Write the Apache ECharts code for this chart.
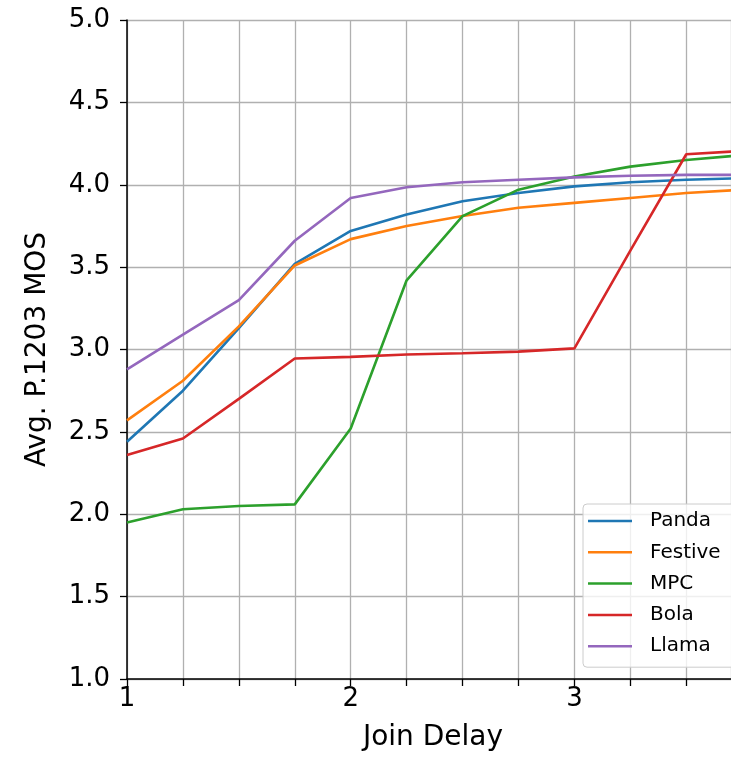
<!DOCTYPE html>
<html>
<head>
<meta charset="utf-8">
<script src="https://cdn.jsdelivr.net/npm/echarts@6/dist/echarts.min.js"></script>
<style>
  html, body { margin: 0; padding: 0; background: #fff; }
  #chart { width: 731px; height: 757px; }
</style>
</head>
<body>
<div id="chart"></div>
<script>
// Join delay values (x)
const joinDelay = [1, 1.25, 1.5, 1.75, 2, 2.25, 2.5, 2.75, 3, 3.25, 3.5, 3.75];
// Avg. P.1203 MOS per algorithm
const panda   = [2.44, 2.75, 3.13, 3.52, 3.72, 3.82, 3.90, 3.95, 3.99, 4.015, 4.03, 4.04];
const festive = [2.57, 2.81, 3.14, 3.51, 3.67, 3.75, 3.81, 3.86, 3.89, 3.92, 3.95, 3.97];
const mpc     = [1.95, 2.03, 2.05, 2.06, 2.52, 3.42, 3.81, 3.97, 4.05, 4.11, 4.15, 4.18];
const bola    = [2.36, 2.46, 2.70, 2.945, 2.955, 2.97, 2.977, 2.987, 3.007, 3.60, 4.185, 4.205];
const llama   = [2.88, 3.09, 3.30, 3.66, 3.92, 3.985, 4.015, 4.03, 4.045, 4.055, 4.06, 4.06];

const seriesNames = ['Panda', 'Festive', 'MPC', 'Bola', 'Llama'];
const seriesData = [panda, festive, mpc, bola, llama];
const colors = ['#1f77b4', '#ff7f0e', '#2ca02c', '#d62728', '#9467bd'];

const FONT = 'DejaVu Sans';
const chart = echarts.init(document.getElementById('chart'), null, { renderer: 'canvas' });

chart.setOption({
  animation: false,
  backgroundColor: '#ffffff',
  color: colors,
  grid: { left: 127, top: 20, right: 0, bottom: 78, containLabel: false },
  xAxis: {
    type: 'value',
    min: 1,
    max: 3.70,
    interval: 0.25,
    name: 'Join Delay',
    nameLocation: 'middle',
    nameGap: 45,
    nameTextStyle: { fontFamily: FONT, fontSize: 28, color: '#000', padding: [0, 0, 0, 8] },
    axisLine: { show: true, lineStyle: { color: '#000', width: 1.5 } },
    axisTick: { show: true, length: 7, inside: false, lineStyle: { color: '#000', width: 1.3 } },
    axisLabel: {
      fontFamily: FONT, fontSize: 26, color: '#000', margin: 7,
      formatter: v => Number.isInteger(v) ? String(v) : '',
      showMaxLabel: false
    },
    splitLine: { show: true, lineStyle: { color: '#b0b0b0', width: 1.3 } }
  },
  yAxis: {
    type: 'value',
    min: 1,
    max: 5,
    interval: 0.5,
    name: 'Avg. P.1203 MOS',
    nameLocation: 'middle',
    nameGap: 75,
    nameTextStyle: { fontFamily: FONT, fontSize: 28, color: '#000' },
    axisLine: { show: true, lineStyle: { color: '#000', width: 1.5 } },
    axisTick: { show: true, length: 7, inside: false, lineStyle: { color: '#000', width: 1.3 } },
    axisLabel: {
      fontFamily: FONT, fontSize: 26, color: '#000', margin: 17,
      formatter: v => v.toFixed(1)
    },
    splitLine: { show: true, lineStyle: { color: '#b0b0b0', width: 1.3 } }
  },
  legend: {
    orient: 'vertical',
    left: 583,
    top: 504,
    data: seriesNames,
    icon: 'rect',
    itemWidth: 44,
    itemHeight: 2.5,
    itemGap: 11.3,
    padding: [7, 40, 11, 5],
    backgroundColor: 'rgba(255,255,255,0.8)',
    borderColor: '#cccccc',
    borderWidth: 1,
    borderRadius: 4,
    textStyle: { fontFamily: FONT, fontSize: 20, color: '#000', lineHeight: 20, padding: [0, 0, 0, 13] }
  },
  series: seriesNames.map((name, i) => ({
    name: name,
    type: 'line',
    data: joinDelay.map((x, j) => [x, seriesData[i][j]]),
    showSymbol: false,
    symbol: 'none',
    clip: true,
    lineStyle: { width: 2.6, color: colors[i] },
    itemStyle: { color: colors[i] },
    z: 2 + i
  }))
});
</script>
</body>
</html>
